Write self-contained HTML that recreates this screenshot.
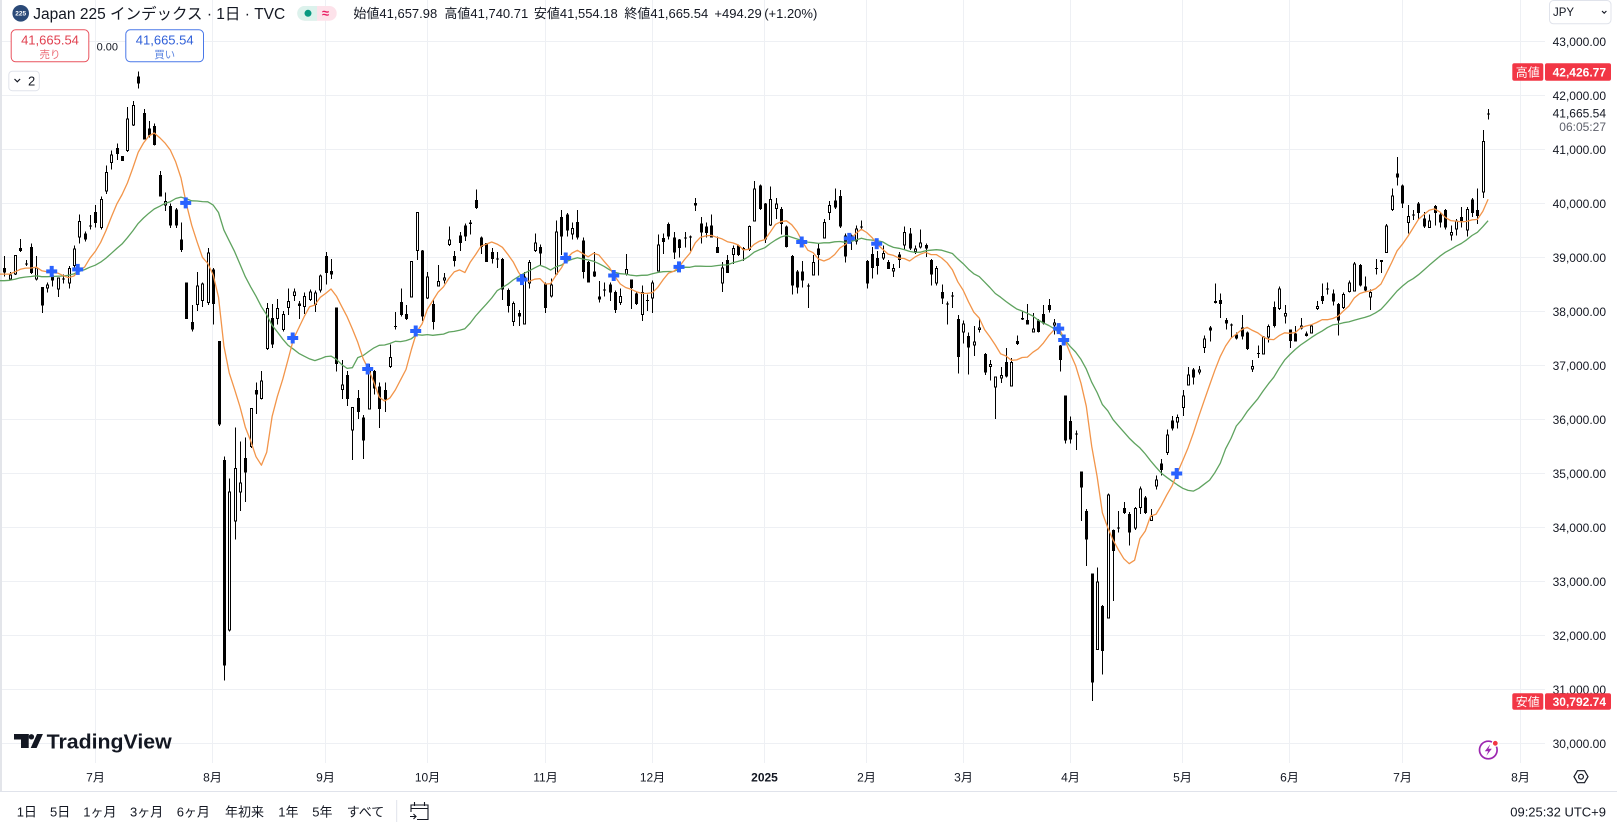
<!DOCTYPE html>
<html><head><meta charset="utf-8">
<style>
html,body{margin:0;padding:0;background:#fff;}
body{width:1617px;height:828px;overflow:hidden;position:relative;}
svg{position:absolute;left:0;top:0;}
text{font-family:"Liberation Sans","Noto Sans CJK JP",sans-serif;fill:#131722;}
</style></head>
<body>
<svg id="s" width="1617" height="828" viewBox="0 0 1617 828" xmlns="http://www.w3.org/2000/svg">
<rect x="0" y="0" width="1617" height="828" fill="#fff"/>
<!-- grid -->
<g stroke="#eef0f4" stroke-width="1" shape-rendering="crispEdges">
<line x1="0" x2="1545" y1="41.5" y2="41.5"/><line x1="0" x2="1545" y1="95.5" y2="95.5"/>
<line x1="0" x2="1545" y1="149.5" y2="149.5"/><line x1="0" x2="1545" y1="203.5" y2="203.5"/>
<line x1="0" x2="1545" y1="257.5" y2="257.5"/><line x1="0" x2="1545" y1="311.5" y2="311.5"/>
<line x1="0" x2="1545" y1="365.5" y2="365.5"/><line x1="0" x2="1545" y1="419.5" y2="419.5"/>
<line x1="0" x2="1545" y1="473.5" y2="473.5"/><line x1="0" x2="1545" y1="527.5" y2="527.5"/>
<line x1="0" x2="1545" y1="581.5" y2="581.5"/><line x1="0" x2="1545" y1="635.5" y2="635.5"/>
<line x1="0" x2="1545" y1="689.5" y2="689.5"/><line x1="0" x2="1545" y1="743.5" y2="743.5"/>
<line x1="95.5" x2="95.5" y1="0" y2="763"/><line x1="212.5" x2="212.5" y1="0" y2="763"/>
<line x1="325.5" x2="325.5" y1="0" y2="763"/><line x1="427.5" x2="427.5" y1="0" y2="763"/>
<line x1="545.5" x2="545.5" y1="0" y2="763"/><line x1="652.5" x2="652.5" y1="0" y2="763"/>
<line x1="764.5" x2="764.5" y1="0" y2="763"/><line x1="866.5" x2="866.5" y1="0" y2="763"/>
<line x1="963.5" x2="963.5" y1="0" y2="763"/><line x1="1070.5" x2="1070.5" y1="0" y2="763"/>
<line x1="1182.5" x2="1182.5" y1="0" y2="763"/><line x1="1289.5" x2="1289.5" y1="0" y2="763"/>
<line x1="1402.5" x2="1402.5" y1="0" y2="763"/><line x1="1520.5" x2="1520.5" y1="0" y2="763"/>
</g>
<rect x="0" y="0" width="2" height="791" fill="#e3e5ea"/>
<line x1="0" x2="1617" y1="791.5" y2="791.5" stroke="#e0e3eb" stroke-width="1"/>

<g id="candles" shape-rendering="crispEdges"></g>
<g id="mas" fill="none" stroke-width="1.3" stroke-linejoin="round"></g>
<g id="marks" fill="#2962ff"></g>

<!-- header -->
<circle cx="20.7" cy="13.3" r="8.3" fill="#2b4a78"/>
<text x="20.7" y="15.6" font-size="6.5" font-weight="bold" text-anchor="middle" style="fill:#fff">225</text>
<text x="33.3" y="18.9" font-size="15.5">Japan 225 インデックス · 1日 · TVC</text>
<rect x="297.3" y="6" width="39.4" height="14.7" rx="7.3" fill="#fde2ea"/>
<path d="M304.6,6 h12.4 v14.7 h-12.4 a7.3,7.3 0 0 1 0,-14.7z" fill="#dcf2ec"/>
<circle cx="308" cy="13.3" r="3.5" fill="#089981"/>
<text x="325.5" y="17.6" font-size="13" font-weight="bold" text-anchor="middle" style="fill:#e91e63">≈</text>
<text x="353.4" y="18" font-size="13">始値41,657.98</text>
<text x="444.4" y="18" font-size="13">高値41,740.71</text>
<text x="533.9" y="18" font-size="13">安値41,554.18</text>
<text x="624.4" y="18" font-size="13">終値41,665.54</text>
<text x="714.4" y="18" font-size="13">+494.29</text>
<text x="764.2" y="18" font-size="13">(+1.20%)</text>

<rect x="11.2" y="29.8" width="77.6" height="32" rx="4.5" fill="#fff" stroke="#e9545f" stroke-width="1"/>
<text x="50" y="44.7" font-size="13" text-anchor="middle" style="fill:#e0404f">41,665.54</text>
<text x="50" y="57.8" font-size="10.5" text-anchor="middle" style="fill:#ec6f79">売り</text>
<text x="107.3" y="50.6" font-size="11" text-anchor="middle">0.00</text>
<rect x="125.8" y="29.8" width="77.7" height="32" rx="4.5" fill="#fff" stroke="#4a78e8" stroke-width="1"/>
<text x="164.7" y="44.7" font-size="13" text-anchor="middle" style="fill:#2f5fd8">41,665.54</text>
<text x="164.7" y="57.8" font-size="10.5" text-anchor="middle" style="fill:#5b84e0">買い</text>
<rect x="8.8" y="71.2" width="30.5" height="19.5" rx="3.5" fill="#fff" stroke="#e0e3eb" stroke-width="1"/>
<polyline points="14.5,79 17.3,81.8 20.1,79" fill="none" stroke="#131722" stroke-width="1.2"/>
<text x="28" y="85.4" font-size="13">2</text>

<!-- right top -->
<rect x="1549.5" y="0.5" width="61.5" height="23.3" rx="4" fill="#fff" stroke="#e0e3eb" stroke-width="1"/>
<text x="1553" y="16" font-size="11.5">JPY</text>
<polyline points="1602,11 1604.2,13.2 1606.4,11" fill="none" stroke="#131722" stroke-width="1.1"/>

<!-- price axis -->
<g font-size="12" text-anchor="end">
<text x="1606" y="45.8">43,000.00</text>
<text x="1606" y="99.8">42,000.00</text>
<text x="1606" y="117.3">41,665.54</text>
<text x="1606" y="131" style="fill:#5d606b">06:05:27</text>
<text x="1606" y="153.8">41,000.00</text>
<text x="1606" y="207.8">40,000.00</text>
<text x="1606" y="261.8">39,000.00</text>
<text x="1606" y="315.8">38,000.00</text>
<text x="1606" y="369.8">37,000.00</text>
<text x="1606" y="423.8">36,000.00</text>
<text x="1606" y="477.8">35,000.00</text>
<text x="1606" y="531.8">34,000.00</text>
<text x="1606" y="585.8">33,000.00</text>
<text x="1606" y="639.8">32,000.00</text>
<text x="1606" y="693.8">31,000.00</text>
<text x="1606" y="747.8">30,000.00</text>
</g>
<rect x="1512.3" y="63.3" width="31" height="17.4" rx="2" fill="#f23645"/>
<text x="1527.8" y="76.4" font-size="12" text-anchor="middle" style="fill:#fff">高値</text>
<rect x="1545" y="63.3" width="66" height="17.4" rx="2" fill="#f23645"/>
<text x="1606" y="76.4" font-size="12" font-weight="bold" text-anchor="end" style="fill:#fff">42,426.77</text>
<rect x="1512.3" y="693.3" width="31" height="16.4" rx="2" fill="#f23645"/>
<text x="1527.8" y="705.8" font-size="12" text-anchor="middle" style="fill:#fff">安値</text>
<rect x="1545" y="693.3" width="66" height="16.4" rx="2" fill="#f23645"/>
<text x="1606" y="705.8" font-size="12" font-weight="bold" text-anchor="end" style="fill:#fff">30,792.74</text>

<!-- time axis -->
<g font-size="12" text-anchor="middle">
<text x="95.5" y="781.3">7月</text>
<text x="212.5" y="781.3">8月</text>
<text x="325.5" y="781.3">9月</text>
<text x="427.5" y="781.3">10月</text>
<text x="545.5" y="781.3">11月</text>
<text x="652.5" y="781.3">12月</text>
<text x="764.5" y="781.3" font-weight="bold">2025</text>
<text x="866.5" y="781.3">2月</text>
<text x="963.5" y="781.3">3月</text>
<text x="1070.5" y="781.3">4月</text>
<text x="1182.5" y="781.3">5月</text>
<text x="1289.5" y="781.3">6月</text>
<text x="1402.5" y="781.3">7月</text>
<text x="1520.5" y="781.3">8月</text>
</g>
<polygon points="1574,776.7 1577.5,770.7 1584.5,770.7 1588,776.7 1584.5,782.7 1577.5,782.7" fill="none" stroke="#131722" stroke-width="1.2"/>
<circle cx="1581" cy="776.7" r="2.4" fill="none" stroke="#131722" stroke-width="1.2"/>

<!-- lightning -->
<circle cx="1488.3" cy="750" r="8.8" fill="#fff" stroke="#9c27b0" stroke-width="1.7"/>
<polygon points="1490.3,744.2 1484.8,751.2 1488.2,751.2 1486.3,755.9 1491.8,748.8 1488.4,748.8" fill="#9c27b0"/>
<circle cx="1495.3" cy="743.3" r="3" fill="#f23645" stroke="#fff" stroke-width="1.2"/>

<!-- logo -->
<rect x="14" y="734" width="14.7" height="5.5" fill="#131722"/>
<rect x="21" y="734" width="7.7" height="14" fill="#131722"/>
<circle cx="31.4" cy="736.8" r="2.7" fill="#131722"/>
<polygon points="37,734 42.9,734 36.6,748 30.7,748" fill="#131722"/>
<text x="46.7" y="748.3" font-size="20" font-weight="bold" textLength="125" lengthAdjust="spacingAndGlyphs" style="fill:#131722">TradingView</text>

<!-- bottom toolbar -->
<g font-size="13">
<text x="16.7" y="816.4">1日</text>
<text x="50" y="816.4">5日</text>
<text x="83.3" y="816.4">1ヶ月</text>
<text x="130" y="816.4">3ヶ月</text>
<text x="176.7" y="816.4">6ヶ月</text>
<text x="225" y="816.4">年初来</text>
<text x="278.3" y="816.4">1年</text>
<text x="312.3" y="816.4">5年</text>
<text x="346.7" y="816.4">すべて</text>
<text x="1606" y="816.4" text-anchor="end">09:25:32 UTC+9</text>
</g>
<line x1="396.7" x2="396.7" y1="800" y2="822" stroke="#e0e3eb" stroke-width="1"/>
<g fill="none" stroke="#131722" stroke-width="1.1">
<path d="M411,812 V805 H428 V819.5 H417"/>
<line x1="411" x2="428" y1="808.5" y2="808.5"/>
<line x1="414.5" x2="414.5" y1="802" y2="806"/>
<line x1="424.5" x2="424.5" y1="802" y2="806"/>
<path d="M410,816.5 H416 M413.5,814 L416,816.5 L413.5,819"/>
</g>
</svg>
<script>
const D=[
[510,520,480,530,0],[525,538,520,540,1],[478,525,478,527,1],[460,468,438,470,0],[498,498,490,505,2],[458,522,450,524,0],[508,538,480,540,1],[556,602,556,620,0],[550,560,545,570,1],[528,540,515,555,0],[533,562,533,580,1],[535,535,525,548,2],[510,548,505,560,1],[462,505,455,510,1],[395,435,378,450,1],[425,440,420,445,0],[405,405,380,415,2],
[372,400,355,410,0],[340,412,335,415,1],[275,322,258,328,1],[232,252,222,268,1],[215,230,205,245,0],[235,248,235,248,0],[143,223,115,225,1],[110,160,100,162,1],[40,58,28,70,0],[130,195,120,195,0],[168,185,150,190,0],[162,208,155,210,0],[282,335,272,335,0],[345,356,325,370,1],[358,405,352,412,0],[366,405,363,412,0],[440,465,398,470,0],[545,635,545,635,0],[642,660,600,665,0],[553,600,520,615,1],[547,590,545,605,1],[472,595,460,600,1],
[513,598,510,648,0],[688,893,688,897,0],[980,1483,972,1520,0],[1057,1398,1025,1400,1],[1000,1130,900,1175,1],[1035,1060,935,1105,1],[975,1010,925,1083,0],[852,948,852,950,1],[808,820,790,868,0],[785,830,762,832,1],[608,708,595,710,1],[632,697,598,705,0],[608,635,585,648,1],[622,662,615,665,1],[590,608,560,625,1],[567,578,560,590,1],[597,603,590,635,0],[578,605,570,622,1],[567,588,562,590,1],[570,600,565,617,1],[528,565,525,570,1],
[480,522,470,550,0],[517,525,488,537,0],[606,745,606,763,0],[795,808,735,830,1],[772,830,762,848,0],[850,908,850,980,1],[828,862,808,880,0],[876,932,870,978,0],[760,856,745,856,1],[762,805,760,820,0],[800,855,790,902,0],[808,832,790,862,0],[728,752,697,755,1],[652,652,618,660,2],[593,625,560,628,0],[622,635,600,637,0],[492,582,492,582,1],[373,468,373,490,1],[467,628,465,640,0],
[530,584,520,586,1],[598,642,588,660,0],[542,555,502,555,1],[533,540,522,548,1],[440,453,408,456,1],[480,492,468,506,0],[430,448,422,468,0],[405,432,400,443,0],[398,402,392,428,1],[343,363,317,365,0],[435,458,432,475,0],[448,495,448,495,0],[470,488,460,498,0],[486,486,470,510,2],[488,562,485,588,0],[563,603,560,618,0],[595,642,592,652,1],[620,628,612,652,0],[530,648,520,648,1],[495,548,490,560,1],[447,468,425,470,1],[458,474,452,505,0],
[548,608,545,620,0],[550,580,535,582,1],[420,525,393,525,1],[385,432,367,478,0],[378,418,375,432,0],[412,428,398,440,1],[397,435,368,440,0],[442,520,435,535,0],[495,545,492,545,0],[518,530,470,532,0],[580,587,542,594,0],[562,562,545,580,2],[550,570,545,590,0],[568,613,565,620,0],[578,595,560,600,1],[512,525,475,528,1],[538,558,538,610,0],[572,598,570,600,0],[568,625,552,640,1],[588,588,575,615,2],
[545,585,540,620,1],[452,518,428,518,1],[436,446,425,475,0],[402,432,398,440,0],[435,472,422,488,0],[440,460,438,484,0],[435,435,422,460,2],[432,432,430,468,2],[350,356,338,370,0],[400,422,385,450,0],[408,424,398,435,0],[405,435,378,435,0],[458,473,432,473,0],[508,548,495,568,1],[490,522,478,522,0],[460,478,455,500,1],[455,478,452,480,0],[460,466,458,492,0],[407,466,405,468,1],[315,395,296,395,1],[307,365,305,368,0],
[352,440,350,448,0],[340,405,310,407,1],[352,365,338,390,1],[365,402,360,428,0],[408,458,405,460,0],[480,552,478,575,0],[518,558,515,572,0],[518,540,492,558,0],[553,553,548,608,2],[495,528,478,528,1],[462,478,450,528,0],[397,437,390,437,1],[355,375,345,392,1],[344,362,315,365,0],[333,408,318,412,0],[430,482,425,496,0],[430,445,428,465,1],[413,445,405,452,1],[408,408,393,418,2],
[492,548,490,560,0],[475,510,458,535,0],[485,505,468,525,0],[473,486,455,490,1],[495,512,490,512,0],[510,518,500,532,1],[477,490,470,510,0],[422,455,408,465,1],[425,462,412,465,0],[462,470,455,475,1],[447,460,415,462,1],[453,462,450,482,0],[490,525,488,552,0],[510,548,505,552,1],[568,585,550,598,0],[596,596,592,648,2],[577,577,568,608,2],[635,727,625,768,0],
[645,668,638,695,1],[676,705,668,770,0],[690,700,652,725,1],[655,662,632,668,1],[720,765,718,772,0],[745,752,735,785,1],[775,803,775,880,1],[772,780,752,792,1],[740,775,705,778,0],[740,800,730,800,1],[688,696,675,698,0],[632,636,615,637,0],[637,648,598,648,0],[658,667,620,668,1],[638,667,635,668,0],[622,645,600,648,0],[600,613,585,618,0],[643,650,635,672,1],[700,735,698,763,0],[822,932,822,940,0],
[885,930,873,940,0],[915,915,908,955,2],[1008,1048,1008,1130,0],[1105,1175,1100,1240,0],[1258,1525,1258,1570,0],[1278,1445,1243,1445,1],[1338,1448,1335,1505,0],[1065,1368,1062,1368,1],[1152,1203,1150,1325,0],[1145,1145,1105,1158,2],[1098,1110,1083,1112,0],[1112,1158,1108,1190,0],[1097,1148,1095,1152,1],[1050,1098,1045,1112,1],[1072,1110,1068,1112,0],[1117,1130,1100,1130,1],[1028,1045,1018,1052,1],[988,1005,978,1018,0],[918,963,905,968,1],[883,903,872,908,0],[875,888,868,903,1],
[822,853,808,872,1],[770,797,752,798,1],[758,778,755,795,0],[758,765,750,770,1],[682,705,675,718,1],[655,663,652,690,0],[590,595,548,597,1],[588,598,572,632,0],[637,645,632,660,0],[648,648,645,680,2],[672,682,668,685,0],[655,678,625,685,0],[668,708,665,710,0],[750,758,735,765,1],[718,718,700,730,2],[678,722,676,722,1],[652,680,648,692,1],[605,652,592,655,0],[560,610,555,612,1],[620,628,600,645,1],
[660,688,660,705,0],[670,690,652,690,0],[650,658,632,660,1],[670,676,665,678,0],[650,670,648,670,1],[603,610,590,612,1],[578,590,548,598,0],[560,560,545,575,2],[572,592,562,602,0],[598,638,595,675,0],[573,608,570,610,1],[545,568,540,570,1],[498,567,495,567,1],[502,552,500,555,0],[555,565,530,568,0],[568,582,562,612,1],[510,510,487,525,2],[490,495,490,522,1],[405,473,402,473,1],[332,368,315,370,1],[278,288,238,308,0],
[307,352,305,362,0],[382,400,355,425,1],[378,378,368,392,2],[352,375,348,390,0],[388,408,372,412,0],[393,412,378,412,1],[358,375,355,405,0],[378,398,375,410,0],[367,410,365,415,0],[422,430,405,442,1],[393,415,390,430,1],[385,395,360,410,0],[365,418,360,432,1],[342,375,338,385,0],[368,382,315,402,0],[198,325,172,338,1],[131,133,120,146,2]
];
(function(){
const X0=95.3,DX=5.357;
const yv=v=>60+v/2.45;
let h='';const closes=[];
for(let k=0;k<D.length;k++){
 const c=D[k],bt=c[0],bb=c[1],wt=c[2],wb=c[3],t=c[4];
 const xc=X0+(k-17)*DX, xr=Math.round(xc);
 closes.push(t==0?bb:bt);
 const y1=yv(bt),y2=yv(bb),w1=yv(wt),w2=yv(wb);
 h+='<rect x="'+xr+'" y="'+w1.toFixed(1)+'" width="1" height="'+Math.max(1,w2-w1).toFixed(1)+'" fill="#000"/>';
 if(t==0) h+='<rect x="'+(xr-1)+'" y="'+y1.toFixed(1)+'" width="3" height="'+Math.max(1,y2-y1).toFixed(1)+'" fill="#000"/>';
 else if(t==1) h+='<rect x="'+(xr-0.5)+'" y="'+(y1+0.5).toFixed(1)+'" width="2" height="'+Math.max(0.5,y2-y1-1).toFixed(1)+'" fill="#fff" stroke="#000" stroke-width="1"/>';
 else h+='<rect x="'+(xr-1)+'" y="'+y1.toFixed(1)+'" width="3" height="1" fill="#000"/>';
}
document.getElementById('candles').innerHTML=h;
const all=Array(17).fill(550).concat(Array(8).fill(525)).concat(closes);
function sma(n){
 const pts=[];
 for(let k=0;k<closes.length;k++){
  let s=0;const j=k+25;for(let m=0;m<n;m++)s+=all[j-m];
  const x=X0+(k-17)*DX;
  if(k==0)pts.push('0,'+yv(s/n).toFixed(1));
  pts.push(x.toFixed(1)+','+yv(s/n).toFixed(1));
 }
 return pts.join(' ');
}
document.getElementById('mas').innerHTML='<polyline points="'+sma(25)+'" stroke="#5fa35f"/><polyline points="'+sma(9)+'" stroke="#f2954a"/>';
const M=[[51.7,271.4],[77.7,269.4],[185.7,202.9],[292.7,338],[367.7,369],[415.7,331],[522,279.6],[565.7,258],[613.7,275.5],[679,266.9],[801.7,242],[849.3,238.4],[876.7,243.7],[1058.7,328.6],[1063.7,340],[1176.7,473.5]];
let m='';
M.forEach(p=>{const x=p[0],y=p[1];m+='<rect x="'+(x-5.5)+'" y="'+(y-2)+'" width="11" height="4"/><rect x="'+(x-2)+'" y="'+(y-5.5)+'" width="4" height="11"/>';});
document.getElementById('marks').innerHTML=m;
})();
</script>
</body></html>
